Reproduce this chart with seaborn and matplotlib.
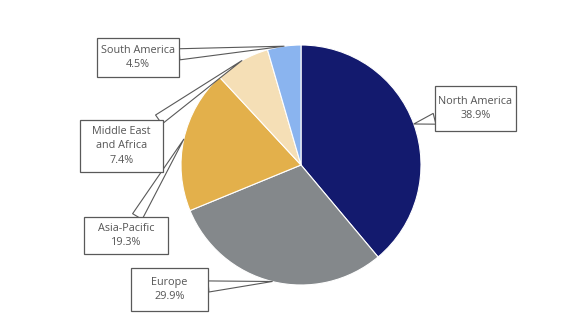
import numpy as np
import matplotlib
matplotlib.use("Agg")
import matplotlib.pyplot as plt
from matplotlib.patches import Rectangle
import seaborn as sns

# market share by region
regions = ["North America", "Europe", "Asia-Pacific", "Middle East\nand Africa", "South America"]
shares = [38.9, 29.9, 19.3, 7.4, 4.5]
colors = ["#131A6E", "#84888B", "#E3B04B", "#F5DFB6", "#8AB4EF"]

# callout boxes: centre (x, y from top) and size, in pixels
box_center = [(475.5, 108.5), (169.5, 289.5), (126, 235.5), (121.5, 146), (138, 57.5)]
box_size = [(81, 45), (77, 43), (84, 37), (83, 52), (82, 39)]

W, H = 588, 333
sns.set_style("white")
plt.rcParams["font.family"] = ["Open Sans", "DejaVu Sans"]

fig = plt.figure(figsize=(W / 100, H / 100), dpi=100)
ax = fig.add_axes([181 / W, 48 / H, 240 / W, 240 / H])

wedges, _ = ax.pie(shares, colors=colors, startangle=90, counterclock=False,
                   radius=1, wedgeprops=dict(linewidth=0.8, edgecolor="white"))
ax.set_xlim(-1, 1)
ax.set_ylim(-1, 1)
ax.set_aspect("equal")
ax.axis("off")

for w, name, val, (cx, cy), (bw, bh) in zip(wedges, regions, shares, box_center, box_size):
    cy = H - cy
    rect = Rectangle(((cx - bw / 2) / W, (cy - bh / 2) / H), bw / W, bh / H,
                     transform=fig.transFigure, fc="white", ec="#595959", lw=0.9, zorder=2)
    fig.add_artist(rect)
    mid = np.deg2rad((w.theta1 + w.theta2) / 2)
    tip = (np.cos(mid), np.sin(mid))
    ax.annotate("", xy=tip, xycoords="data", xytext=(cx, cy), textcoords="figure pixels",
                arrowprops=dict(arrowstyle="wedge,tail_width=1.0", fc="white",
                                ec="#595959", lw=0.8, shrinkA=0, shrinkB=0,
                                patchA=rect, mutation_scale=8))
    fig.text(cx / W, cy / H, "{}\n{:.1f}%".format(name, val), ha="center", va="center",
             fontsize=7.8, color="#555555", linespacing=1.4, zorder=5)

fig.savefig("out.png", dpi=100)
